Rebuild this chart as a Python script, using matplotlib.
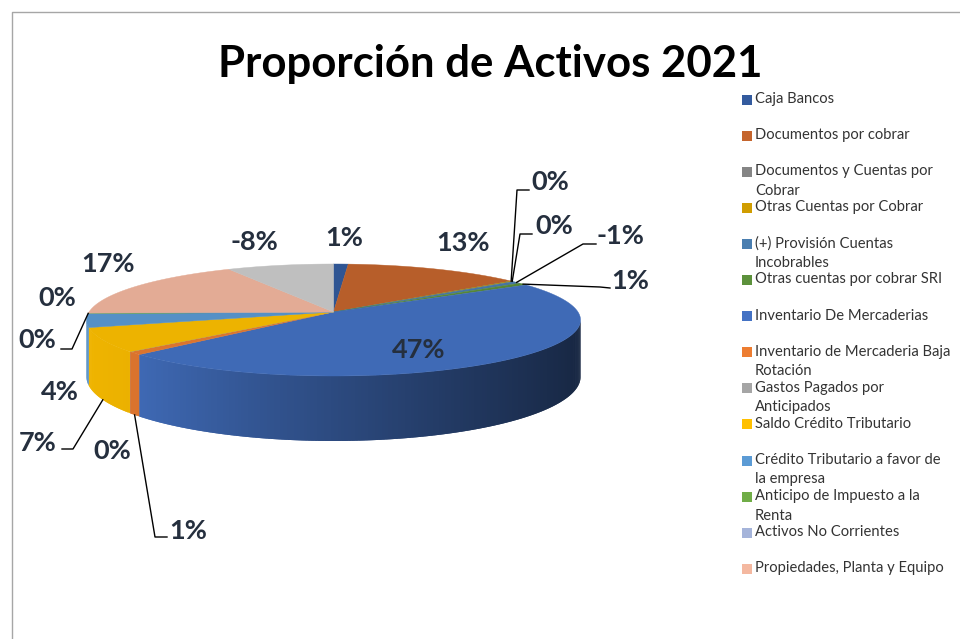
import numpy as np
import matplotlib
matplotlib.use("Agg")
import matplotlib.pyplot as plt
from matplotlib.colors import to_rgb
from matplotlib.patches import Polygon, Rectangle

# shares of the pie in percent, clockwise from 12 o'clock (negative ones count by size)
categories = ["Caja Bancos", "Documentos por cobrar", "Documentos y Cuentas por\nCobrar",
              "Otras Cuentas por Cobrar", "(+) Provisión Cuentas\nIncobrables",
              "Otras cuentas por cobrar SRI", "Inventario De Mercaderias",
              "Inventario de Mercaderia Baja\nRotación", "Gastos Pagados por\nAnticipados",
              "Saldo Crédito Tributario", "Crédito Tributario a favor de\nla empresa",
              "Anticipo de Impuesto a la\nRenta", "Activos No Corrientes",
              "Propiedades, Planta y Equipo", "Depreciación"]
values = [1.1, 13.4, 0.02, 0.2, -0.7, 0.7, 46.6, 0.9, 0.02, 7.0, 3.9, 0.2, 0.02, 17.3, -8.0]
colors = ["#335B9E", "#C5652D", "#858585", "#D09D00", "#4A7EB0", "#5C913B", "#4472C4", "#ED7D31",
          "#A5A5A5", "#FFC000", "#5B9BD5", "#70AD47", "#A5B4DA", "#F4B8A0", "#CDCDCD"]

# label centres in pixels, same order as values
label_pos = [(344, 238), (463, 243), (550, 182), (554, 226), (620, 236), (630, 281), (419, 350),
             (188, 531), (112, 451), (38, 443), (60, 392), (37, 340), (57, 298), (108, 264), (254, 242)]
# leader lines: slice index -> (start at wall bottom?, elbow, end)
leaders = {2: (False, (517, 190), (529, 190)),
           3: (False, (520, 234), (532, 234)),
           4: (False, (583, 244), (596, 244)),
           5: (False, (600, 287), (610, 288)),
           7: (True, (155, 537), (167, 537)),
           9: (True, (73, 449), (62, 449)),
           11: (False, (72, 349), (61, 349))}

# pie geometry in pixels, simple perspective
cx, cy = 333.5, 312
R, S, k = 244.5, 54.86, 1 / 7
H = 55.7


def project(theta, bottom=False):
    u, v = np.sin(theta), np.cos(theta)
    w = 1 + k * v
    x = cx + R * u / w
    y = cy - S * v / w
    if bottom:
        y = y + H / w
    return x, y


def shade(col, f):
    return tuple(c * f for c in to_rgb(col))


fig = plt.figure(figsize=(9.6, 6.39), dpi=100)
ax = fig.add_axes([0, 0, 1, 1])
ax.set_xlim(0, 960)
ax.set_ylim(639, 0)
ax.axis("off")

# chart frame
ax.plot([11.5, 11.5, 960], [639, 11.5, 11.5], color="#A6A6A6", lw=1)

sizes = np.abs(values)
edges = np.radians(np.concatenate([[0], np.cumsum(sizes)]) / sizes.sum() * 360)

# outer wall, small quads shaded from left to right
# each quad runs under the next one so no seams show
light_u = [-1, -0.72, -0.2, 0.5, 1]
light_f = [0.94, 0.92, 0.72, 0.48, 0.33]
wall_start = np.arccos(-k)
for i in range(len(values)):
    a0, a1 = max(edges[i], wall_start), min(edges[i + 1], 2 * np.pi - wall_start)
    if a1 <= a0:
        continue
    t = np.linspace(a0, a1, max(2, int((a1 - a0) / 0.012) + 2))
    for n in range(len(t) - 1):
        t0, t1 = t[n], t[min(n + 2, len(t) - 1)]
        f = np.interp(np.sin((t[n] + t[n + 1]) / 2), light_u, light_f)
        col = shade(colors[i], f)
        p = [project(t0), project(t1), project(t1, True), project(t0, True)]
        ax.add_patch(Polygon(p, closed=True, fc=col, ec="none", zorder=2))

# top face
for i in range(len(values)):
    t = np.linspace(edges[i], edges[i + 1], max(2, int((edges[i + 1] - edges[i]) / 0.01) + 2))
    x, y = project(t)
    pts = [(cx, cy)] + list(zip(x, y))
    col = shade(colors[i], 0.93)
    ax.add_patch(Polygon(pts, closed=True, fc=col, ec=col, lw=0.3, zorder=3))

# leader lines
for i, (low, elbow, end) in leaders.items():
    x0, y0 = project((edges[i] + edges[i + 1]) / 2, low)
    ax.plot([x0, elbow[0], end[0]], [y0, elbow[1], end[1]], color="black", lw=1, zorder=4)

# data labels
for v, (x, y) in zip(values, label_pos):
    ax.text(x, y, f"{round(v)}%", ha="center", va="center", family="Lato", fontsize=19.5,
            fontweight="bold", color="#252F3E", zorder=5)

ax.text(490, 64, "Proporción de Activos 2021", ha="center", va="center", family="Lato",
        fontsize=31.5, fontweight="bold", color="black")

# legend, last entry is cut off in the original
for i, name in enumerate(categories[:14]):
    y = 99 + 36.1 * i
    col = colors[i]
    ax.add_patch(Rectangle((742, y - 4.5), 10, 10, fc=col, ec="none"))
    for j, line in enumerate(name.split("\n")):
        ax.text(755, y + 19.5 * j, line, ha="left", va="center", family="Lato", fontsize=10.6,
                color="#333333")

fig.savefig("out.png", dpi=100)
